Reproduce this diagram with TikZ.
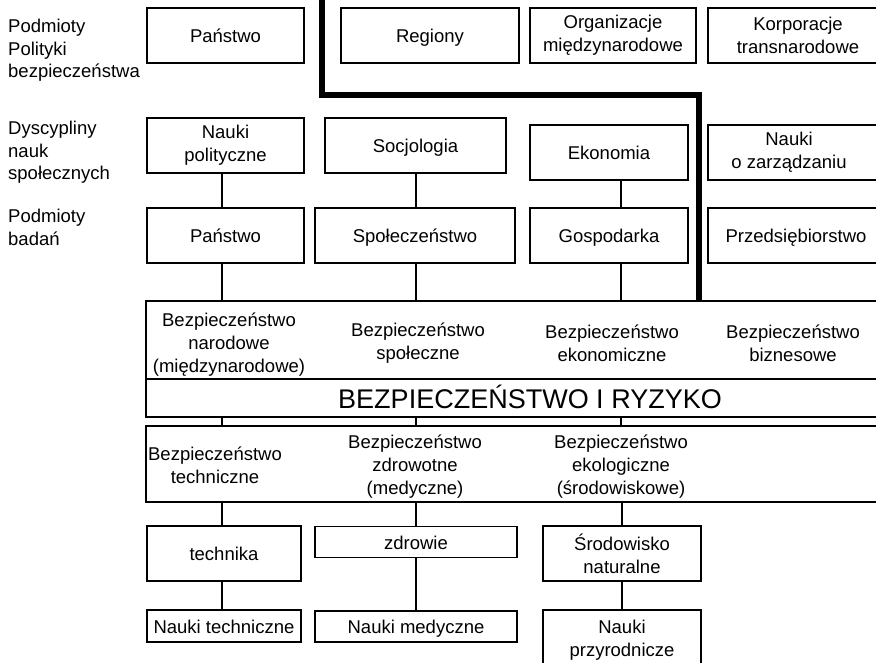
\documentclass[tikz,border=0pt]{standalone}
\usepackage{fontspec}
\setmainfont{Liberation Sans}
\begin{document}
\begin{tikzpicture}[x=1pt,y=-1pt,
  box/.style={draw=black, line width=1.1pt, inner sep=0pt, align=center,
              font=\fontsize{18.5}{23}\selectfont},
  one/.style={text height=14pt, text depth=0pt},
  txt/.style={inner sep=0pt, align=center, font=\fontsize{18.5}{23}\selectfont},
  lab/.style={inner sep=0pt, align=left, anchor=north west,
              font=\fontsize{18.5}{22.5}\selectfont},
  link/.style={line width=1.1pt},
  bar/.style={line width=6.5pt}]
\useasboundingbox (0,0) rectangle (876,663);

% row labels
\node[lab] (l1) at (8,19)  {Podmioty\\Polityki\\bezpieczeństwa};
\node[lab] (l2) at (8,121) {Dyscypliny\\nauk\\społecznych};
\node[lab] (l3) at (8,209) {Podmioty\\badań};

% actors of security policy
\node[box, one, minimum width=157, minimum height=55] (p1) at (225.5,35.5) {Państwo};
\node[box, one, minimum width=178, minimum height=55] (p2) at (430,35.5) {Regiony};
\node[box, minimum width=166, minimum height=55] (p3) at (613,35.5) {Organizacje\\międzynarodowe};
\node[box, minimum width=180, minimum height=55] (p4) at (798,35.5) {Korporacje\\transnarodowe};

% social science disciplines
\node[box, minimum width=157, minimum height=55] (d1) at (225.5,145.5) {Nauki\\polityczne};
\node[box, one, minimum width=181, minimum height=55] (d2) at (415.5,145.5) {Socjologia};
\node[box, one, minimum width=158, minimum height=55] (d3) at (609,152.5) {Ekonomia};
\node[box, minimum width=176, minimum height=55] (d4) at (796,152.5) {};
\node[txt] (d4t) at (789,152.5) {Nauki\\o zarządzaniu};

% research subjects
\node[box, one, minimum width=157, minimum height=55] (s1) at (225.5,235.5) {Państwo};
\node[box, one, minimum width=200, minimum height=55] (s2) at (415,235.5) {Społeczeństwo};
\node[box, one, minimum width=158, minimum height=55] (s3) at (609,235.5) {Gospodarka};
\node[box, one, minimum width=176, minimum height=55] (s4) at (796,235.5) {Przedsiębiorstwo};

% central band
\node[box, minimum width=738, minimum height=78] (bb1) at (515,340) {};
\node[box, minimum width=738, minimum height=38] (rz)  at (515,398) {};
\node[box, minimum width=738, minimum height=76] (bb2) at (515,464) {};

\node[txt] (t1) at (229,345) {Bezpieczeństwo\\narodowe\\(międzynarodowe)};
\node[txt] (t2) at (418,343) {Bezpieczeństwo\\społeczne};
\node[txt] (t3) at (612,343) {Bezpieczeństwo\\ekonomiczne};
\node[txt] (t4) at (793,343) {Bezpieczeństwo\\biznesowe};

\node[txt, anchor=base, font=\fontsize{27}{30}\selectfont] (rt) at (530,408) {BEZPIECZEŃSTWO I RYZYKO};

\node[txt] (t5) at (215,465) {Bezpieczeństwo\\techniczne};
\node[txt] (t6) at (415,467) {Bezpieczeństwo\\zdrowotne\\(medyczne)};
\node[txt] (t7) at (621,467) {Bezpieczeństwo\\ekologiczne\\(środowiskowe)};

% areas and sciences below
\node[box, one, minimum width=154, minimum height=55] (a1) at (224,553.5) {technika};
\node[box, one, minimum width=202, minimum height=31] (a2) at (416,542) {zdrowie};
\node[box, minimum width=158, minimum height=55] (a3) at (622,553.5) {Środowisko\\naturalne};

\node[box, one, minimum width=154, minimum height=32] (n1) at (224,626) {Nauki techniczne};
\node[box, one, minimum width=202, minimum height=31] (n2) at (416,626.5) {Nauki medyczne};
\node[box, minimum width=158, minimum height=60] (n3) at (622,640) {Nauki\\przyrodnicze};

% column lines
\coordinate (c1) at (222,0);
\coordinate (c2) at (416,0);
\coordinate (c3) at (621,0);

\draw[link] (d1.south -| c1) -- (s1.north -| c1);
\draw[link] (d2.south -| c2) -- (s2.north -| c2);
\draw[link] (d3.south -| c3) -- (s3.north -| c3);
\draw[link] (s1.south -| c1) -- (bb1.north -| c1);
\draw[link] (s2.south -| c2) -- (bb1.north -| c2);
\draw[link] (s3.south -| c3) -- (bb1.north -| c3);
\draw[link] (rz.south -| c1) -- (bb2.north -| c1);
\draw[link] (rz.south -| c2) -- (bb2.north -| c2);
\draw[link] (rz.south -| c3) -- (bb2.north -| c3);
\draw[link] (bb2.south -| c1) -- (a1.north -| c1);
\draw[link] (bb2.south -| c2) -- (a2.north -| c2);
\draw[link] (bb2.south -| a3) -- (a3.north);
\draw[link] (a1.south -| c1) -- (n1.north -| c1);
\draw[link] (a2.south -| c2) -- (n2.north -| c2);
\draw[link] (a3.south) -- (n3.north);

% heavy dividing line
\coordinate (b0) at (322,-5);
\coordinate (b1) at (699,95);
\draw[bar] (b0) |- (b1) -- (b1 |- bb1.north);
\end{tikzpicture}
\end{document}
